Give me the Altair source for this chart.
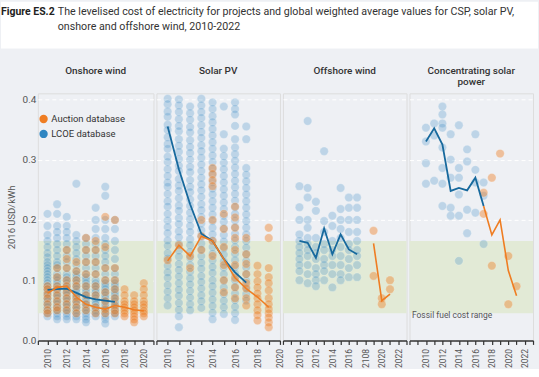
import altair as alt
import pandas as pd

FONT = "Roboto"

TITLE_LABEL = "Figure ES.2"
TITLE_LINE1 = "The levelised cost of electricity for projects and global weighted average values for CSP, solar PV,"
TITLE_LINE2 = "onshore and offshore wind, 2010-2022"

PANEL_TITLES = ["Onshore wind", "Solar PV", "Offshore wind", ["Concentrating solar", "power"]]
Y_TITLE = "2016 USD/kWh"
Y_TICKS = [0.0, 0.1, 0.2, 0.3, 0.4]
SOURCES = ["Auction database", "LCOE database"]
FOSSIL_LOW = 0.045
FOSSIL_HIGH = 0.165
FOSSIL_TEXT = "Fossil fuel cost range"

# ---------------- Onshore wind ----------------
ONSHORE_LCOE = {
    2010: [0.21, 0.19, 0.175, 0.165, 0.155, 0.145, 0.138, 0.13, 0.125, 0.12, 0.115, 0.11, 0.105, 0.10,
           0.095, 0.09, 0.085, 0.08, 0.075, 0.07, 0.065, 0.06, 0.055, 0.05, 0.045, 0.04],
    2011: [0.226, 0.21, 0.19, 0.18, 0.17, 0.16, 0.15, 0.14, 0.13, 0.125, 0.12, 0.11, 0.105, 0.1, 0.095,
           0.09, 0.085, 0.08, 0.075, 0.07, 0.065, 0.06, 0.055, 0.05, 0.045, 0.04, 0.035],
    2012: [0.205, 0.19, 0.18, 0.17, 0.16, 0.15, 0.14, 0.13, 0.12, 0.11, 0.105, 0.1, 0.095, 0.09, 0.085,
           0.08, 0.075, 0.07, 0.065, 0.06, 0.055, 0.05, 0.045, 0.04, 0.035],
    2013: [0.26, 0.175, 0.165, 0.155, 0.145, 0.135, 0.125, 0.115, 0.11, 0.105, 0.1, 0.095, 0.09, 0.085,
           0.08, 0.075, 0.07, 0.065, 0.06, 0.055, 0.05, 0.045, 0.04, 0.035],
    2014: [0.17, 0.16, 0.15, 0.14, 0.13, 0.12, 0.11, 0.105, 0.1, 0.095, 0.09, 0.085, 0.08, 0.075, 0.07,
           0.065, 0.06, 0.055, 0.05, 0.045, 0.04, 0.035, 0.03],
    2015: [0.22, 0.2, 0.185, 0.17, 0.16, 0.15, 0.14, 0.13, 0.12, 0.11, 0.1, 0.095, 0.09, 0.085, 0.08,
           0.075, 0.07, 0.065, 0.06, 0.055, 0.05, 0.045, 0.04],
    2016: [0.255, 0.24, 0.2, 0.185, 0.17, 0.16, 0.15, 0.14, 0.13, 0.12, 0.11, 0.1, 0.095, 0.09, 0.085,
           0.08, 0.075, 0.07, 0.065, 0.06, 0.055, 0.05, 0.045, 0.04, 0.035, 0.028],
    2017: [0.2, 0.185, 0.165, 0.15, 0.135, 0.12, 0.11, 0.1, 0.095, 0.09, 0.085, 0.08, 0.075, 0.07, 0.065,
           0.06, 0.055, 0.05, 0.045, 0.04],
}
ONSHORE_AUCTION = {
    2010: [0.09, 0.085, 0.077, 0.07, 0.06, 0.05, 0.045],
    2011: [0.12, 0.105, 0.09, 0.085, 0.075, 0.065, 0.055, 0.05],
    2012: [0.15, 0.135, 0.12, 0.1, 0.09, 0.08, 0.07, 0.06, 0.05],
    2013: [0.13, 0.115, 0.1, 0.09, 0.072, 0.065, 0.055, 0.045],
    2014: [0.17, 0.15, 0.13, 0.11, 0.09, 0.075, 0.06, 0.05],
    2015: [0.165, 0.15, 0.13, 0.11, 0.09, 0.075, 0.055, 0.045],
    2016: [0.205, 0.155, 0.12, 0.1, 0.08, 0.065, 0.052, 0.045],
    2017: [0.2, 0.12, 0.1, 0.085, 0.07, 0.058, 0.05, 0.045],
    2018: [0.085, 0.075, 0.065, 0.06, 0.055, 0.05, 0.045, 0.04],
    2019: [0.075, 0.065, 0.06, 0.055, 0.05, 0.045, 0.04, 0.035, 0.03],
    2020: [0.095, 0.085, 0.075, 0.065, 0.06, 0.055, 0.049, 0.045, 0.04],
}
ONSHORE_LCOE_AVG_YEARS = [2010, 2011, 2012, 2013, 2014, 2015, 2016, 2017]
ONSHORE_LCOE_AVG = [0.084, 0.085, 0.086, 0.079, 0.072, 0.068, 0.066, 0.064]
ONSHORE_AUCTION_AVG_YEARS = [2010, 2011, 2012, 2013, 2014, 2015, 2016, 2017, 2018, 2019, 2020]
ONSHORE_AUCTION_AVG = [0.078, 0.088, 0.09, 0.072, 0.06, 0.055, 0.052, 0.058, 0.055, 0.051, 0.049]

# ---------------- Solar PV ----------------
SOLAR_LCOE = {
    2010: [0.401, 0.392, 0.380, 0.371, 0.358, 0.349, 0.337, 0.326, 0.318, 0.305, 0.296, 0.284, 0.273,
           0.262, 0.255, 0.243, 0.231, 0.222, 0.210, 0.199, 0.188, 0.178, 0.166, 0.157, 0.145, 0.136,
           0.124, 0.113, 0.104, 0.092, 0.081, 0.070, 0.058],
    2011: [0.400, 0.390, 0.379, 0.367, 0.356, 0.347, 0.334, 0.323, 0.313, 0.301, 0.290, 0.281, 0.268,
           0.257, 0.248, 0.236, 0.224, 0.215, 0.203, 0.193, 0.181, 0.171, 0.160, 0.149, 0.139, 0.127,
           0.117, 0.106, 0.095, 0.084, 0.074, 0.062, 0.051, 0.040, 0.022],
    2012: [0.388, 0.377, 0.366, 0.354, 0.345, 0.332, 0.321, 0.311, 0.300, 0.288, 0.279, 0.266, 0.255,
           0.246, 0.234, 0.223, 0.212, 0.201, 0.190, 0.180, 0.168, 0.158, 0.147, 0.137, 0.125, 0.114,
           0.103, 0.093, 0.082, 0.071, 0.060, 0.050],
    2013: [0.401, 0.390, 0.379, 0.369, 0.357, 0.346, 0.336, 0.324, 0.314, 0.303, 0.292, 0.281, 0.270,
           0.259, 0.249, 0.238, 0.226, 0.216, 0.205, 0.194, 0.183, 0.173, 0.161, 0.151, 0.140, 0.129,
           0.119, 0.107, 0.097, 0.086, 0.075, 0.065, 0.054],
    2014: [0.395, 0.384, 0.372, 0.362, 0.351, 0.340, 0.329, 0.318, 0.307, 0.296, 0.285, 0.275, 0.263,
           0.252, 0.242, 0.231, 0.220, 0.209, 0.198, 0.187, 0.176, 0.166, 0.155, 0.144, 0.133, 0.122,
           0.112, 0.100, 0.090, 0.079, 0.068, 0.057, 0.046, 0.035],
    2015: [0.388, 0.342, 0.318, 0.306, 0.295, 0.284, 0.273, 0.262, 0.251, 0.240, 0.229, 0.218, 0.207,
           0.197, 0.186, 0.175, 0.164, 0.153, 0.142, 0.131, 0.121, 0.110, 0.099, 0.088, 0.077, 0.066,
           0.055, 0.044],
    2016: [0.395, 0.384, 0.375, 0.356, 0.334, 0.320, 0.309, 0.298, 0.287, 0.276, 0.265, 0.254, 0.243,
           0.232, 0.221, 0.210, 0.199, 0.188, 0.177, 0.166, 0.155, 0.144, 0.133, 0.122, 0.111, 0.100,
           0.089, 0.078, 0.067, 0.056, 0.045, 0.034],
    2017: [0.355, 0.334, 0.286, 0.275, 0.264, 0.253, 0.242, 0.231, 0.220, 0.209, 0.198, 0.187, 0.176,
           0.165, 0.154, 0.143, 0.132, 0.121, 0.110, 0.099, 0.088, 0.077, 0.066],
}
SOLAR_AUCTION = {
    2010: [0.133],
    2011: [0.158],
    2012: [0.14, 0.12],
    2013: [0.2, 0.173, 0.15],
    2014: [0.286, 0.276, 0.266, 0.256, 0.2, 0.165, 0.14],
    2015: [0.21, 0.185, 0.155, 0.125, 0.1, 0.08],
    2016: [0.222, 0.204, 0.187, 0.17, 0.15, 0.125, 0.104, 0.088, 0.07],
    2017: [0.17, 0.143, 0.127, 0.11, 0.095, 0.086, 0.07, 0.058],
    2018: [0.124, 0.11, 0.098, 0.088, 0.078, 0.07, 0.06, 0.05, 0.042, 0.033],
    2019: [0.187, 0.17, 0.12, 0.105, 0.095, 0.083, 0.07, 0.06, 0.052, 0.045, 0.038, 0.03, 0.022],
}
SOLAR_LCOE_AVG_YEARS = [2010, 2011, 2012, 2013, 2014, 2015, 2016, 2017]
SOLAR_LCOE_AVG = [0.355, 0.284, 0.226, 0.177, 0.165, 0.135, 0.113, 0.096]
SOLAR_AUCTION_AVG_YEARS = [2010, 2011, 2012, 2013, 2014, 2015, 2016, 2017, 2018, 2019]
SOLAR_AUCTION_AVG = [0.132, 0.158, 0.14, 0.173, 0.165, 0.135, 0.104, 0.086, 0.072, 0.055]

# ---------------- Offshore wind ----------------
OFFSHORE_LCOE = {
    2010: [0.256, 0.221, 0.2, 0.176, 0.165, 0.155, 0.145, 0.135, 0.125, 0.115, 0.1],
    2011: [0.364, 0.253, 0.237, 0.2, 0.187, 0.17, 0.16, 0.15, 0.14, 0.125, 0.11, 0.095],
    2012: [0.23, 0.215, 0.17, 0.155, 0.145, 0.135, 0.12, 0.11, 0.1, 0.09],
    2013: [0.314, 0.198, 0.18, 0.16, 0.15, 0.135, 0.125, 0.115, 0.1],
    2014: [0.207, 0.19, 0.165, 0.15, 0.14, 0.125, 0.11, 0.088],
    2015: [0.253, 0.218, 0.2, 0.185, 0.17, 0.155, 0.14, 0.125, 0.11, 0.1],
    2016: [0.237, 0.22, 0.2, 0.18, 0.16, 0.15, 0.135, 0.12, 0.105],
    2017: [0.237, 0.22, 0.2, 0.18, 0.165, 0.15, 0.14, 0.125, 0.105],
}
OFFSHORE_AUCTION = {
    2019: [0.182, 0.107],
    2020: [0.07, 0.06],
    2021: [0.1, 0.085],
}
OFFSHORE_LCOE_AVG_YEARS = [2010, 2011, 2012, 2013, 2014, 2015, 2016, 2017]
OFFSHORE_LCOE_AVG = [0.165, 0.162, 0.137, 0.186, 0.143, 0.176, 0.151, 0.143]
OFFSHORE_AUCTION_AVG_YEARS = [2019, 2020, 2021]
OFFSHORE_AUCTION_AVG = [0.161, 0.066, 0.077]

# ---------------- Concentrating solar power ----------------
CSP_LCOE = {
    2010: [0.353, 0.33, 0.294, 0.26],
    2011: [0.36, 0.34, 0.265],
    2012: [0.388, 0.375, 0.36, 0.353, 0.32, 0.286, 0.26, 0.223],
    2013: [0.342, 0.3, 0.27, 0.22, 0.207],
    2014: [0.357, 0.286, 0.27, 0.242, 0.207, 0.132],
    2015: [0.317, 0.297, 0.217, 0.178],
    2016: [0.342, 0.283, 0.262, 0.212],
    2017: [0.262, 0.24, 0.16],
}
CSP_AUCTION = {
    2017: [0.245, 0.21],
    2018: [0.27, 0.124],
    2019: [0.31],
    2020: [0.14, 0.06],
    2021: [0.09],
}
CSP_LCOE_AVG_YEARS = [2010, 2011, 2012, 2013, 2014, 2015, 2016, 2017]
CSP_LCOE_AVG = [0.33, 0.352, 0.325, 0.248, 0.253, 0.249, 0.27, 0.223]
CSP_AUCTION_AVG_YEARS = [2017, 2018, 2019, 2020, 2021]
CSP_AUCTION_AVG = [0.223, 0.175, 0.2, 0.116, 0.074]

ORANGE = "#ef7d22"
BLUE = "#2f86c2"
BLUE_LINE = "#17699d"
GRID = "#ffffff"
BG = "#eef0f4"
BAND = "#e2ead6"
Y_DOMAIN = [0, 0.41]
PLOT_H = 248
LEFT = 37      # room for the y axis, left of the first panel
TOP = 92       # room above the panels (figure caption + panel titles)
CAPTION_H = 47
TOTAL_W = 539
TITLE_FONT = dict(fontSize=10, fontWeight=500, color="#333333", font=FONT)

EVEN_LABELS = "datum.value % 2 == 0 && datum.value >= 2010 ? format(datum.value, 'd') : ''"
OFFSHORE_LABELS = ("datum.value == 2018 ? '2108' : "
                   "(datum.value % 2 == 0 && datum.value >= 2010 ? format(datum.value, 'd') : '')")


def points_frame(lcoe, auction):
    rows = []
    for yr, vals in lcoe.items():
        for v in vals:
            rows.append({"year": yr, "lcoe": v, "source": SOURCES[1]})
    for yr, vals in auction.items():
        for v in vals:
            rows.append({"year": yr, "lcoe": v, "source": SOURCES[0]})
    return pd.DataFrame(rows)


def panel(title, lcoe, auction, lavg_y, lavg, aavg_y, aavg, domain, width,
          first=False, label_expr=EVEN_LABELS, annotate=False, title_offset=17):
    ticks = list(range(domain[0], domain[1] + 1))
    xaxis = alt.Axis(values=ticks, labelExpr=label_expr, labelAngle=270,
                     title=None, grid=False, domainColor="#333333", domainWidth=1.5,
                     tickColor="#333333", tickWidth=1.2, tickSize=4, labelFontSize=8.5,
                     labelColor="#555555", labelPadding=4, labelFlush=False,
                     labelOverlap=False, labelBound=False)
    xscale = alt.Scale(domain=domain, nice=False, zero=False)
    if first:
        yaxis = alt.Axis(values=Y_TICKS, format=".1f", title=Y_TITLE, titleFontSize=9.5,
                         titleFontWeight="normal", titleColor="#555555", titlePadding=6,
                         labelFontSize=10, labelColor="#555555", labelPadding=2,
                         domain=False, ticks=False, grid=True, gridColor=GRID,
                         gridDash=[4, 3], gridWidth=1, labelOverlap=False)
    else:
        yaxis = alt.Axis(values=Y_TICKS, labels=False, title=None, domain=False, ticks=False,
                         grid=True, gridColor=GRID, gridDash=[4, 3], gridWidth=1)
    yscale = alt.Scale(domain=Y_DOMAIN, nice=False, zero=False)

    def X(field):
        return alt.X(field, scale=xscale, axis=xaxis)

    def Y(field):
        return alt.Y(field, scale=yscale, axis=yaxis)

    band_df = pd.DataFrame({"lo": [FOSSIL_LOW], "hi": [FOSSIL_HIGH]})
    band = alt.Chart(band_df).mark_rect(color=BAND).encode(
        x=alt.value(0), x2=alt.value(width),
        y=Y("lo:Q"), y2="hi:Q",
    )

    if first:
        legend = alt.Legend(title=None, orient="none", legendX=1, legendY=21,
                            symbolType="circle", symbolSize=70, symbolOpacity=1,
                            symbolStrokeWidth=0, labelFontSize=9.5, labelColor="#333333",
                            labelFont=FONT, rowPadding=4, labelOffset=3)
    else:
        legend = None
    color = alt.Color("source:N", scale=alt.Scale(domain=SOURCES, range=[ORANGE, BLUE]),
                      legend=legend)

    pts = alt.Chart(points_frame(lcoe, auction)).mark_circle(
        size=72, stroke="white", strokeWidth=0.5, strokeOpacity=0.5
    ).encode(
        x=X("year:Q"), y=Y("lcoe:Q"),
        color=color,
        fillOpacity=alt.FillOpacity("source:N",
                                    scale=alt.Scale(domain=SOURCES, range=[0.6, 0.36]),
                                    legend=None),
    )

    lline = alt.Chart(pd.DataFrame({"year": lavg_y, "lcoe": lavg})).mark_line(
        color=BLUE_LINE, strokeWidth=1.8).encode(x=X("year:Q"), y=Y("lcoe:Q"))
    aline = alt.Chart(pd.DataFrame({"year": aavg_y, "lcoe": aavg})).mark_line(
        color=ORANGE, strokeWidth=1.6).encode(x=X("year:Q"), y=Y("lcoe:Q"))

    layers = []
    if first:
        # white caption strip above the grey figure area, with the figure caption
        cap = alt.Chart(pd.DataFrame({"k": [0]})).mark_rect(color="white").encode(
            x=alt.value(-LEFT), x2=alt.value(TOTAL_W - LEFT),
            y=alt.value(-TOP), y2=alt.value(CAPTION_H - TOP),
        )
        t_bold = alt.Chart(pd.DataFrame({"t": [TITLE_LABEL]})).mark_text(
            align="left", baseline="middle", fontSize=10.5, fontWeight="bold",
            color="#222222", font=FONT
        ).encode(x=alt.value(-LEFT), y=alt.value(10 - TOP), text="t:N")
        t1 = alt.Chart(pd.DataFrame({"t": [TITLE_LINE1]})).mark_text(
            align="left", baseline="middle", fontSize=10.7, color="#333333", font=FONT
        ).encode(x=alt.value(57 - LEFT), y=alt.value(10 - TOP), text="t:N")
        t2 = alt.Chart(pd.DataFrame({"t": [TITLE_LINE2]})).mark_text(
            align="left", baseline="middle", fontSize=10.7, color="#333333", font=FONT
        ).encode(x=alt.value(57 - LEFT), y=alt.value(25 - TOP), text="t:N")
        # panel heading drawn as text so it is not pushed above the caption strip
        head = alt.Chart(pd.DataFrame({"t": [title]})).mark_text(
            align="center", baseline="middle", **TITLE_FONT
        ).encode(x=alt.value(width / 2), y=alt.value(70 - TOP), text="t:N")
        layers += [cap, t_bold, t1, t2, head]

    layers += [band, pts, lline, aline]
    if annotate:
        note = alt.Chart(pd.DataFrame({"t": [FOSSIL_TEXT], "year": [2008.3], "lcoe": [0.042]})).mark_text(
            align="left", baseline="middle", fontSize=8.5, color="#555555", font=FONT
        ).encode(x=X("year:Q"), y=Y("lcoe:Q"), text="t:N")
        layers.append(note)

    out = alt.layer(*layers).properties(width=width, height=PLOT_H)
    if not first:
        out = out.properties(
            title=alt.TitleParams(text=title, anchor="middle", offset=title_offset,
                                  lineHeight=11, **TITLE_FONT)
        )
    return out


p1 = panel(PANEL_TITLES[0], ONSHORE_LCOE, ONSHORE_AUCTION, ONSHORE_LCOE_AVG_YEARS, ONSHORE_LCOE_AVG,
           ONSHORE_AUCTION_AVG_YEARS, ONSHORE_AUCTION_AVG, [2009, 2021], 116, first=True)
p2 = panel(PANEL_TITLES[1], SOLAR_LCOE, SOLAR_AUCTION, SOLAR_LCOE_AVG_YEARS, SOLAR_LCOE_AVG,
           SOLAR_AUCTION_AVG_YEARS, SOLAR_AUCTION_AVG, [2009, 2020], 124)
p3 = panel(PANEL_TITLES[2], OFFSHORE_LCOE, OFFSHORE_AUCTION, OFFSHORE_LCOE_AVG_YEARS, OFFSHORE_LCOE_AVG,
           OFFSHORE_AUCTION_AVG_YEARS, OFFSHORE_AUCTION_AVG, [2008, 2023], 124,
           label_expr=OFFSHORE_LABELS)
p4 = panel(PANEL_TITLES[3], CSP_LCOE, CSP_AUCTION, CSP_LCOE_AVG_YEARS, CSP_LCOE_AVG,
           CSP_AUCTION_AVG_YEARS, CSP_AUCTION_AVG, [2008, 2023], 124, annotate=True, title_offset=6)

chart = alt.hconcat(p1, p2, p3, p4, spacing=3, bounds="flush").resolve_scale(
    color="independent", fillOpacity="independent"
).properties(
    background=BG, padding=0
).configure_view(strokeWidth=0).configure(font=FONT)

chart.save("out.html", embed_options={"renderer": "svg", "actions": False})
